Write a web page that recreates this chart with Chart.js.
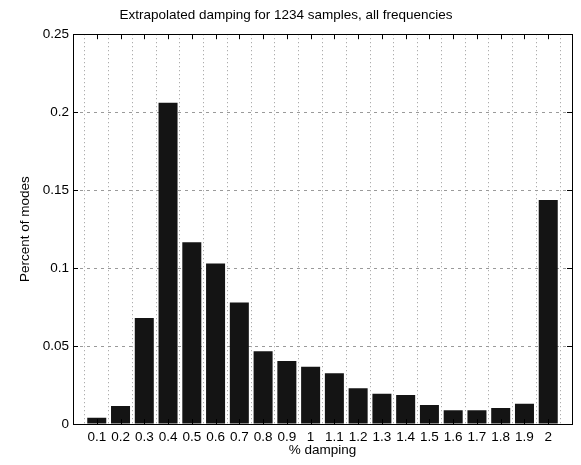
<!DOCTYPE html>
<html>
<head>
<meta charset="utf-8">
<script src="https://cdn.jsdelivr.net/npm/chart.js@4.4.1/dist/chart.umd.min.js"></script>
<style>
  html, body { margin: 0; padding: 0; background: #fff; }
  #wrap { width: 581px; height: 465px; }
</style>
</head>
<body>
<div id="wrap"><canvas id="chart" width="581" height="465"></canvas></div>
<script>
// damping bins (% damping) and share of modes in each
const dampingLabels = ['0.1', '0.2', '0.3', '0.4', '0.5', '0.6', '0.7', '0.8', '0.9', '1',
  '1.1', '1.2', '1.3', '1.4', '1.5', '1.6', '1.7', '1.8', '1.9', '2'];
const percentModes = [0.004, 0.0115, 0.068, 0.206, 0.1165, 0.103, 0.078, 0.0466, 0.0404, 0.0367,
  0.0325, 0.023, 0.0194, 0.0186, 0.0122, 0.0088, 0.0088, 0.0103, 0.013, 0.1436];
const yTicks = [0, 0.05, 0.1, 0.15, 0.2, 0.25];
const xRange = [0, 2.1];

const xValues = dampingLabels.map(s => parseFloat(s));
const barData = xValues.map((x, i) => ({ x: x, y: percentModes[i] }));

const fontFam = 'Liberation Sans, Arial, sans-serif';
const fs = 13.5;

// box round the axes + small inward ticks, like matlab
const boxPlugin = {
  id: 'box',
  afterDraw(chart) {
    const a = chart.chartArea;
    const ctx = chart.ctx;
    const xs = chart.scales.x, ys = chart.scales.y;
    ctx.save();
    ctx.strokeStyle = '#000';
    ctx.lineWidth = 1;
    ctx.strokeRect(Math.round(a.left) + 0.5, Math.round(a.top) + 0.5,
      Math.round(a.right - a.left), Math.round(a.bottom - a.top));
    ctx.beginPath();
    xValues.forEach(v => {
      const px = Math.round(xs.getPixelForValue(v)) + 0.5;
      ctx.moveTo(px, a.bottom); ctx.lineTo(px, a.bottom - 5);
      ctx.moveTo(px, a.top); ctx.lineTo(px, a.top + 5);
    });
    yTicks.forEach(v => {
      const py = Math.round(ys.getPixelForValue(v)) + 0.5;
      ctx.moveTo(a.left, py); ctx.lineTo(a.left + 5, py);
      ctx.moveTo(a.right, py); ctx.lineTo(a.right - 5, py);
    });
    ctx.stroke();
    ctx.restore();
  }
};

new Chart(document.getElementById('chart'), {
  type: 'bar',
  data: {
    datasets: [{
      data: barData,
      backgroundColor: '#141414',
      borderWidth: 0,
      categoryPercentage: 0.8,
      barPercentage: 1.0
    }]
  },
  options: {
    responsive: false,
    animation: false,
    layout: { padding: { left: 0, right: 9, top: 0, bottom: 0 } },
    plugins: {
      legend: { display: false },
      tooltip: { enabled: false },
      title: {
        display: true,
        text: 'Extrapolated damping for 1234 samples, all frequencies',
        color: '#000',
        font: { family: fontFam, size: fs, weight: 'normal' },
        padding: { top: 7, bottom: 11 }
      }
    },
    scales: {
      x: {
        type: 'linear',
        min: xRange[0],
        max: xRange[1],
        offset: false,
        afterBuildTicks(axis) {
          axis.ticks = xValues.map(v => ({ value: v }));
        },
        afterFit(axis) { axis.height = 41; },
        grid: {
          color: '#9a9a9a',
          lineWidth: 1,
          drawTicks: false
        },
        border: { display: false, dash: [1, 3] },
        ticks: {
          autoSkip: false,
          maxRotation: 0,
          color: '#000',
          padding: 5,
          font: { family: fontFam, size: fs },
          callback: v => String(+(+v).toFixed(1))
        },
        title: {
          display: true,
          text: '% damping',
          color: '#000',
          font: { family: fontFam, size: fs },
          padding: { top: 0, bottom: 7 }
        }
      },
      y: {
        min: 0,
        max: 0.25,
        afterBuildTicks(axis) {
          axis.ticks = yTicks.map(v => ({ value: v }));
        },
        afterFit(axis) { axis.width = 73; },
        grid: {
          color: '#9a9a9a',
          lineWidth: 1,
          drawTicks: false
        },
        border: { display: false, dash: [3, 4] },
        ticks: {
          color: '#000',
          padding: 4,
          font: { family: fontFam, size: fs },
          callback: v => String(+(+v).toFixed(2))
        },
        title: {
          display: true,
          text: 'Percent of modes',
          color: '#000',
          font: { family: fontFam, size: fs },
          padding: { top: 17, bottom: 0 }
        }
      }
    }
  },
  plugins: [boxPlugin]
});
</script>
</body>
</html>
